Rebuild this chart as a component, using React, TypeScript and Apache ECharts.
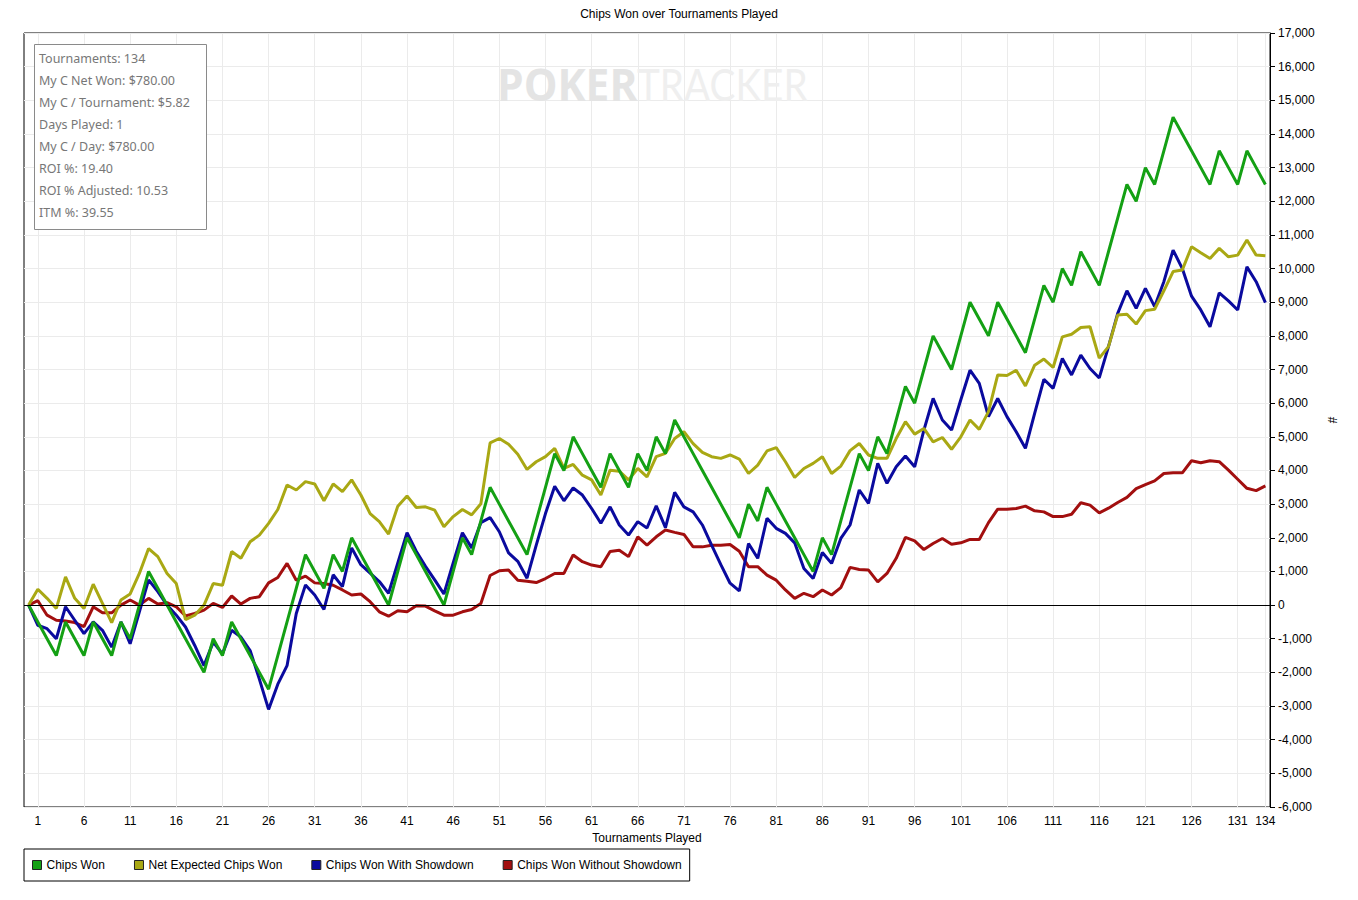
import React, { useEffect, useRef } from 'react';
import * as echarts from 'echarts';

// Tournament index 0..134 (index 0 = start, value 0)
const chipsWon = [
  0, -500, -1000, -1500, -500, -1000, -1500, -500, -1000, -1500,
  -500, -1000, 0, 1000, 500, 0, -500, -1000, -1500, -2000,
  -1000, -1500, -500, -1000, -1500, -2000, -2500, -1500, -500, 500,
  1500, 1000, 500, 1500, 1000, 2000, 1500, 1000, 500, 0,
  1000, 2000, 1500, 1000, 500, 0, 1000, 2000, 1500, 2500,
  3500, 3000, 2500, 2000, 1500, 2500, 3500, 4500, 4000, 5000,
  4500, 4000, 3500, 4500, 4000, 3500, 4500, 4000, 5000, 4500,
  5500, 5000, 4500, 4000, 3500, 3000, 2500, 2000, 3000, 2500,
  3500, 3000, 2500, 2000, 1500, 1000, 2000, 1500, 2500, 3500,
  4500, 4000, 5000, 4500, 5500, 6500, 6000, 7000, 8000, 7500,
  7000, 8000, 9000, 8500, 8000, 9000, 8500, 8000, 7500, 8500,
  9500, 9000, 10000, 9500, 10500, 10000, 9500, 10500, 11500, 12500,
  12000, 13000, 12500, 13500, 14500, 14000, 13500, 13000, 12500, 13500,
  13000, 12500, 13500, 13000, 12500,
];

const netExpected = [
  0, 470, 200, -100, 840, 200, -100, 620, 50, -520,
  150, 330, 940, 1680, 1440, 940, 640, -430, -300, 0,
  640, 590, 1590, 1390, 1880, 2080, 2430, 2840, 3570, 3420,
  3670, 3600, 3100, 3600, 3370, 3720, 3270, 2720, 2480, 2110,
  2940, 3240, 2900, 2920, 2820, 2330, 2630, 2840, 2680, 3010,
  4820, 4950, 4780, 4480, 4030, 4260, 4410, 4660, 4060, 4180,
  3860, 3720, 3270, 4010, 3980, 3720, 4060, 3810, 4410, 4510,
  4950, 5150, 4800, 4540, 4410, 4360, 4460, 4340, 3910, 4160,
  4580, 4680, 4260, 3790, 4060, 4210, 4410, 3910, 4130, 4590,
  4800, 4460, 4360, 4360, 4950, 5450, 5080, 5250, 4850, 4980,
  4630, 5000, 5500, 5220, 5750, 6840, 6820, 6980, 6510, 7130,
  7310, 7060, 7970, 8050, 8250, 8270, 7340, 7680, 8620, 8640,
  8350, 8750, 8790, 9340, 9910, 9960, 10650, 10470, 10300, 10600,
  10350, 10400, 10850, 10400, 10380,
];

const withShowdown = [
  0, -600, -700, -1000, -50, -450, -850, -500, -750, -1250,
  -500, -1150, -200, 750, 400, 0, -300, -650, -1200, -1800,
  -1100, -1450, -750, -950, -1350, -2200, -3100, -2350, -1800, -250,
  600, 300, -130, 900, 550, 1700, 1200, 950, 700, 350,
  1250, 2150, 1600, 1150, 750, 330, 1250, 2150, 1700, 2450,
  2600, 2180, 1550, 1300, 800, 1780, 2720, 3530, 3100, 3480,
  3270, 2870, 2430, 2920, 2380, 2080, 2480, 2290, 2950, 2300,
  3350, 2920, 2770, 2380, 1780, 1200, 650, 420, 1830, 1390,
  2580, 2280, 2130, 1850, 1090, 790, 1560, 1240, 1980, 2380,
  3420, 3020, 4210, 3620, 4110, 4430, 4110, 5200, 6140, 5500,
  5200, 6100, 6980, 6590, 5600, 6140, 5600, 5150, 4660, 5700,
  6710, 6440, 7330, 6840, 7430, 7030, 6750, 7680, 8670, 9340,
  8820, 9410, 8870, 9610, 10550, 10000, 9180, 8770, 8270, 9280,
  9040, 8770, 10050, 9610, 8990,
];

const withoutShowdown = [
  0, 130, -300, -450, -470, -520, -640, -50, -230, -230,
  0, 150, 0, 200, 30, 70, -50, -320, -250, -150,
  50, -70, 270, 30, 200, 250, 660, 820, 1240, 740,
  860, 660, 640, 590, 450, 300, 330, 100, -200, -330,
  -170, -200, -20, -30, -170, -300, -300, -200, -130, 50,
  880, 1020, 1040, 740, 710, 670, 790, 940, 940, 1490,
  1290, 1190, 1140, 1590, 1630, 1440, 2030, 1780, 2030, 2230,
  2160, 2100, 1730, 1730, 1780, 1780, 1800, 1600, 1140, 1140,
  890, 740, 450, 200, 350, 250, 450, 300, 520, 1120,
  1060, 1040, 690, 940, 1390, 2010, 1910, 1650, 1830, 1980,
  1810, 1850, 1950, 1950, 2450, 2850, 2850, 2870, 2940, 2800,
  2770, 2630, 2630, 2700, 3040, 2970, 2740, 2880, 3050, 3200,
  3460, 3580, 3690, 3910, 3930, 3930, 4290, 4230, 4290, 4260,
  4010, 3740, 3470, 3400, 3540,
];

const xTickValues = [1, 6, 11, 16, 21, 26, 31, 36, 41, 46, 51, 56, 61, 66, 71, 76, 81, 86, 91, 96, 101, 106, 111, 116, 121, 126, 131, 134];

const seriesNames = ['Chips Won', 'Net Expected Chips Won', 'Chips Won With Showdown', 'Chips Won Without Showdown'];
const seriesColors = ['#14a014', '#a9a814', '#0a0a9e', '#a20f0f'];

const statsLines = [
  'Tournaments: 134',
  'My C Net Won: $780.00',
  'My C / Tournament: $5.82',
  'Days Played: 1',
  'My C / Day: $780.00',
  'ROI %: 19.40',
  'ROI % Adjusted: 10.53',
  'ITM %: 39.55',
];

const FONT = "'Liberation Sans', Arial, sans-serif";

function toPairs(values: number[]) {
  return values.map((v, i) => [i, v]);
}

export default function App() {
  const ref = useRef<HTMLDivElement>(null);

  useEffect(() => {
    if (!ref.current) return;
    const chart = echarts.init(ref.current, undefined, { renderer: 'svg' });
    const valueSets = [chipsWon, netExpected, withShowdown, withoutShowdown];

    const lineSeries = valueSets.map((vals, i) => ({
      name: seriesNames[i],
      type: 'line',
      data: toPairs(vals),
      showSymbol: false,
      symbol: 'none',
      color: seriesColors[i],
      lineStyle: { color: seriesColors[i], width: 3 },
      itemStyle: { color: seriesColors[i] },
      emphasis: { disabled: true },
      silent: true,
    }));
    // draw order: red first (bottom), green last (top)
    const ordered: any[] = [lineSeries[3], lineSeries[2], lineSeries[1], lineSeries[0]];
    ordered[0].markLine = {
      silent: true,
      symbol: 'none',
      label: { show: false },
      lineStyle: { color: '#000', width: 1, type: 'solid' },
      data: [{ yAxis: 0 }],
    };

    const statsGraphics: any[] = [
      {
        type: 'rect',
        shape: { x: 34.5, y: 44.5, width: 172, height: 185 },
        style: { fill: '#fff', stroke: '#8a8a8a', lineWidth: 1 },
        z: 10,
      },
      ...statsLines.map((t, i) => ({
        type: 'text',
        x: 39,
        y: 58 + i * 22,
        style: {
          text: t,
          fill: '#777',
          font: "12.5px 'Noto Sans', 'Open Sans', sans-serif",
          verticalAlign: 'middle',
          align: 'left',
        },
        z: 11,
      })),
    ];

    const watermark: any[] = [
      {
        type: 'text',
        x: 497,
        y: 84,
        scaleX: 0.965,
        style: {
          text: 'POKER',
          fill: '#e4e4e4',
          font: "bold 44px 'Open Sans', 'Noto Sans', sans-serif",
          verticalAlign: 'middle',
          align: 'left',
        },
        z: 1,
      },
      {
        type: 'text',
        x: 637,
        y: 84,
        scaleX: 0.88,
        style: {
          text: 'TRACKER',
          fill: '#efefef',
          font: "44px 'Lato', 'Noto Sans', sans-serif",
          verticalAlign: 'middle',
          align: 'left',
        },
        z: 1,
      },
    ];

    chart.setOption({
      animation: false,
      backgroundColor: '#fff',
      textStyle: { fontFamily: FONT },
      title: {
        text: 'Chips Won over Tournaments Played',
        left: 'center',
        top: 3,
        textStyle: { fontSize: 12, fontWeight: 'normal', color: '#000', fontFamily: FONT },
      },
      grid: {
        left: 24,
        right: 88,
        top: 33,
        bottom: 93,
        show: true,
        borderColor: '#000',
        borderWidth: 1,
        containLabel: false,
        outerBoundsMode: 'none',
      },
      legend: {
        data: seriesNames,
        left: 24,
        top: 849,
        orient: 'horizontal',
        icon: 'rect',
        itemWidth: 9,
        itemHeight: 9,
        itemGap: 29,
        padding: [10, 8, 10, 8],
        borderColor: '#000',
        borderWidth: 1,
        backgroundColor: '#fff',
        selectedMode: false,
        itemStyle: { borderColor: '#222', borderWidth: 1 },
        textStyle: { fontSize: 12, color: '#000', fontFamily: FONT, padding: [0, 0, 0, 0] },
      },
      xAxis: {
        type: 'value',
        min: -0.5,
        max: 134.5,
        axisLine: { show: false, onZero: false },
        axisTick: { show: false, customValues: xTickValues },
        axisLabel: {
          customValues: xTickValues,
          color: '#000',
          fontSize: 12,
          margin: 8,
          fontFamily: FONT,
          formatter: (v: number) => String(v),
        },
        splitLine: { show: true, lineStyle: { color: '#ebebeb', width: 1 } },
        name: 'Tournaments Played',
        nameLocation: 'middle',
        nameGap: 24,
        nameTextStyle: { color: '#000', fontSize: 12, fontFamily: FONT },
      },
      yAxis: {
        type: 'value',
        position: 'right',
        min: -6000,
        max: 17000,
        interval: 1000,
        axisLine: { show: true, onZero: false, lineStyle: { color: '#000', width: 1 } },
        axisTick: { show: true, length: 5, inside: false, lineStyle: { color: '#000' } },
        axisLabel: {
          color: '#000',
          fontSize: 12,
          margin: 8,
          fontFamily: FONT,
          formatter: (v: number) => v.toLocaleString('en-US'),
        },
        splitLine: { show: true, lineStyle: { color: '#ebebeb', width: 1 } },
        name: '#',
        nameLocation: 'middle',
        nameGap: 56,
        nameRotate: -90,
        nameTextStyle: { color: '#000', fontSize: 12, fontFamily: FONT },
      },
      graphic: [...watermark, ...statsGraphics],
      series: ordered,
    });

    return () => {
      chart.dispose();
    };
  }, []);

  return (
    <div
      ref={ref}
      style={{ position: 'fixed', left: 0, top: 0, width: 1358, height: 900, background: '#fff' }}
    />
  );
}
